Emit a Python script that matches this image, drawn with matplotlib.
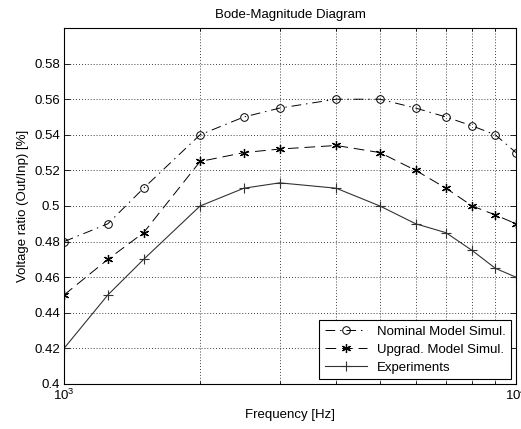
import matplotlib
matplotlib.use("Agg")
import matplotlib.pyplot as plt
from matplotlib.ticker import LogLocator, NullFormatter, FixedLocator

plt.rcParams["font.family"] = ["Liberation Sans", "DejaVu Sans"]
plt.rcParams["font.size"] = 9.5

# Frequency points and measured / simulated voltage ratios
freq = [1000, 1250, 1500, 2000, 2500, 3000, 4000, 5000, 6000, 7000, 8000, 9000, 10000]
nominal = [0.48, 0.49, 0.51, 0.54, 0.55, 0.555, 0.56, 0.56, 0.555, 0.55, 0.545, 0.54, 0.53]
upgrad = [0.45, 0.47, 0.485, 0.525, 0.53, 0.532, 0.534, 0.53, 0.52, 0.51, 0.50, 0.495, 0.49]
experiments = [0.42, 0.45, 0.47, 0.50, 0.51, 0.513, 0.51, 0.50, 0.49, 0.485, 0.475, 0.465, 0.46]

fig = plt.figure(figsize=(5.21, 4.29), dpi=100)
ax = fig.add_axes([64 / 521, 45 / 429, 452 / 521, 356 / 429])

ax.semilogx(freq, nominal, linestyle=(0, (10, 5, 1.5, 5)), marker="o", color="black",
            lw=0.7, ms=5.5, mfc="none", mew=0.7, label="Nominal Model Simul.")
ax.semilogx(freq, upgrad, linestyle=(0, (11, 6)), marker=(6, 2, 0), color="black",
            lw=0.7, ms=6.5, mew=0.9, label="Upgrad. Model Simul.")
ax.semilogx(freq, experiments, "-", marker="+", color="#333333", lw=0.8, ms=7,
            mew=0.8, label="Experiments")

ax.set_xlim(1000, 10000)
ax.set_ylim(0.4, 0.6)
ax.set_yticks([0.4, 0.42, 0.44, 0.46, 0.48, 0.5, 0.52, 0.54, 0.56, 0.58])
ax.set_yticklabels(["0.4", "0.42", "0.44", "0.46", "0.48", "0.5", "0.52",
                    "0.54", "0.56", "0.58"])
ax.xaxis.set_major_locator(FixedLocator([1000, 10000]))
ax.xaxis.set_minor_locator(LogLocator(base=10, subs=range(2, 10)))
ax.xaxis.set_minor_formatter(NullFormatter())

ax.grid(True, which="major", axis="y", linestyle=(0, (1, 2.5)), color="black", lw=0.6)
ax.grid(True, which="minor", axis="x", linestyle=(0, (1, 2.5)), color="black", lw=0.6)
ax.tick_params(which="both", direction="in", top=True, right=True, width=0.6, pad=3)
ax.tick_params(which="major", length=4)
ax.tick_params(which="minor", length=2.5)
for s in ax.spines.values():
    s.set_linewidth(0.8)

ax.set_title("Bode-Magnitude Diagram", fontsize=9.5, pad=7)
ax.set_xlabel("Frequency [Hz]", fontsize=9.5, labelpad=4)
ax.set_ylabel("Voltage ratio (Out/Inp) [%]", fontsize=9.5, labelpad=4)

leg = ax.legend(loc="lower right", fancybox=False, framealpha=1, edgecolor="black",
                fontsize=9.5, borderaxespad=0.35, handlelength=3.2,
                labelspacing=0.45, borderpad=0.4)
leg.get_frame().set_linewidth(0.8)

fig.savefig("out.png", dpi=100)
